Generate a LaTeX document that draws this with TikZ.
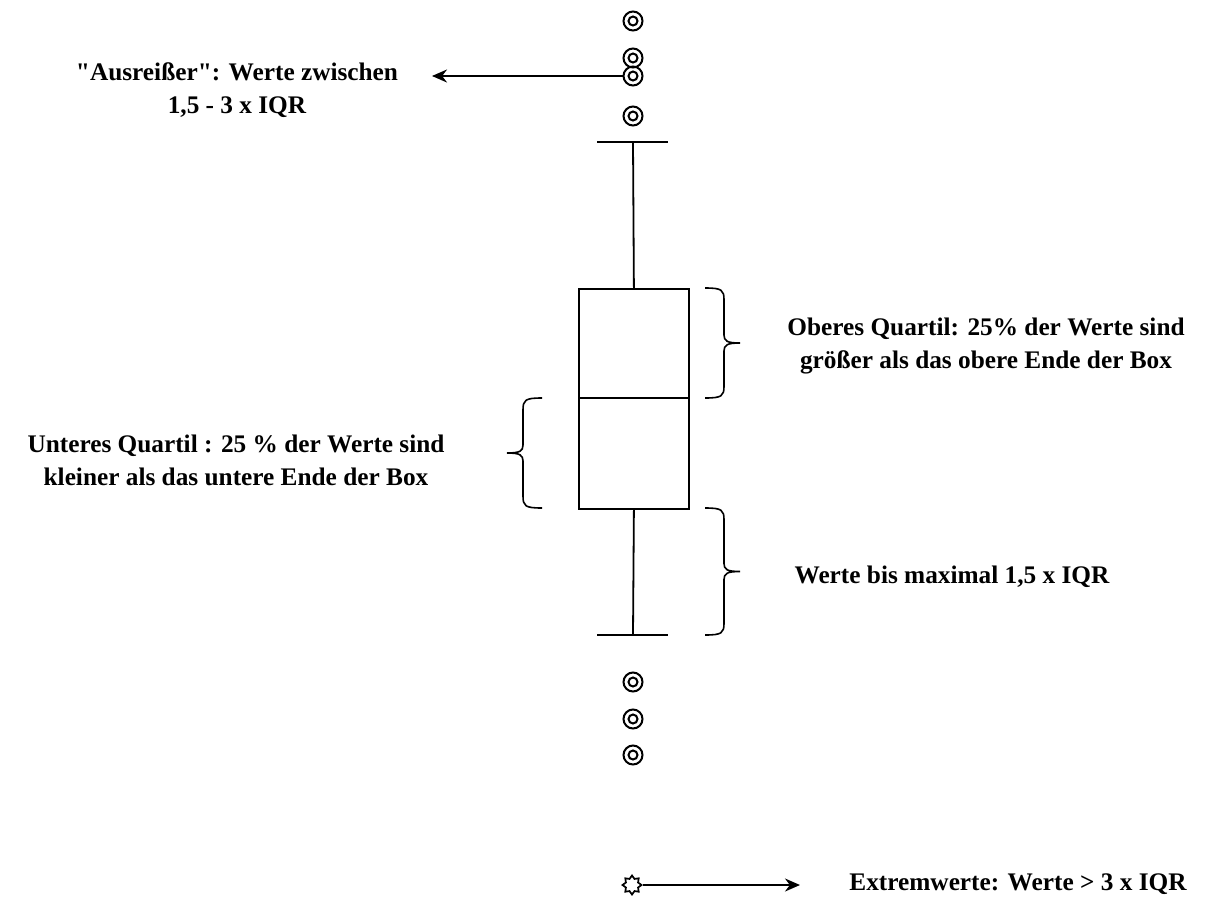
\documentclass[tikz,border=0pt]{standalone}
\usepackage{fontspec}
\setmainfont{Liberation Serif}[Ligatures=TeXOff]
\usetikzlibrary{shapes.geometric,arrows.meta}
% curly brace: #1 x of the ends, #2 x of the spine, #3 x of the tip, #4 top y, #5 bottom y
\newcommand\qbrace[5]{%
  \pgfmathsetmacro\qmid{(#4+#5)/2}%
  \pgfmathsetmacro\qs{#2>#1 ? 1 : -1}%
  \draw[bracestyle] (#1,#4) .. controls ({#2-\qs*2},#4) and (#2,{#4+2}) .. (#2,{#4+12})
     -- (#2,{\qmid-8}) .. controls (#2,{\qmid-2}) and ({#2+\qs*3},\qmid) .. (#3,\qmid)
     (#3,\qmid) .. controls ({#2+\qs*3},\qmid) and (#2,{\qmid+2}) .. (#2,{\qmid+8})
     -- (#2,{#5-12}) .. controls (#2,{#5-2}) and ({#2-\qs*2},#5) .. (#1,#5);}
\begin{document}
\begin{tikzpicture}[x=1pt,y=-1pt,
  line width=1.8pt,
  lbl/.style={font=\bfseries\fontsize{25.3}{33}\selectfont,align=center,inner sep=0pt},
  ring/.style={circle,draw,line width=2pt,minimum size=19pt,inner sep=0pt,
    append after command={node[circle,draw,line width=2pt,minimum size=9pt,inner sep=0pt] at (\tikzlastnode.center) {}}},
  bracestyle/.style={line width=1.6pt},
  arr/.style={-{Stealth[length=15pt,width=13pt]},line width=1.9pt}]
\useasboundingbox (0,0) rectangle (1223,897);

% box and whiskers
\node[draw,minimum width=110pt,minimum height=220pt,inner sep=0pt,anchor=north west] (box) at (578,288) {};
\draw (578,398) coordinate (medL) -- (688,398) coordinate (medR);
\coordinate (topcap) at (633,142);
\coordinate (botcap) at (633,635);
\draw (box.north) -- (topcap);
\draw (box.south) -- (botcap);
\draw (597,142) -- (668,142);
\draw (597,635) -- (668,635);

% outliers
\node[ring] (o1) at (633,21) {};
\node[ring] (o2) at (633,58) {};
\node[ring] (o3) at (633,76) {};
\node[ring] (o4) at (633,116) {};
\node[ring] (u1) at (633,682) {};
\node[ring] (u2) at (633,719) {};
\node[ring] (u3) at (633,755) {};

% extreme value
\node[star,star points=8,star point ratio=1.45,draw,line width=1.7pt,minimum size=19pt,inner sep=0pt] (ex) at (632,885) {};

% labels
\node[lbl] (tAus) at (237,90) {"Ausreißer": Werte zwischen\\1,5 - 3 x IQR};
\node[lbl] (tOben) at (986,346) {Oberes Quartil: 25\% der Werte sind\\größer als das obere Ende der Box};
\node[lbl] (tUnten) at (236,460) {Unteres Quartil : 25 \% der Werte sind\\kleiner als das untere Ende der Box};
\node[lbl] (tWhisk) at (952,577) {Werte bis maximal 1,5 x IQR};
\node[lbl] (tExt) at (1018,884) {Extremwerte: Werte > 3 x IQR};

% connectors
\coordinate (ausEnd) at (432,76);
\draw[arr] (o3.west) -- (ausEnd);
\coordinate (extEnd) at (800,885);
\draw[arr] (ex.east) -- (extEnd);

% braces
\qbrace{705}{724}{740}{288}{398}
\qbrace{705}{724}{740}{508}{635}
\qbrace{542}{523}{507}{398}{508}
\end{tikzpicture}
\end{document}
